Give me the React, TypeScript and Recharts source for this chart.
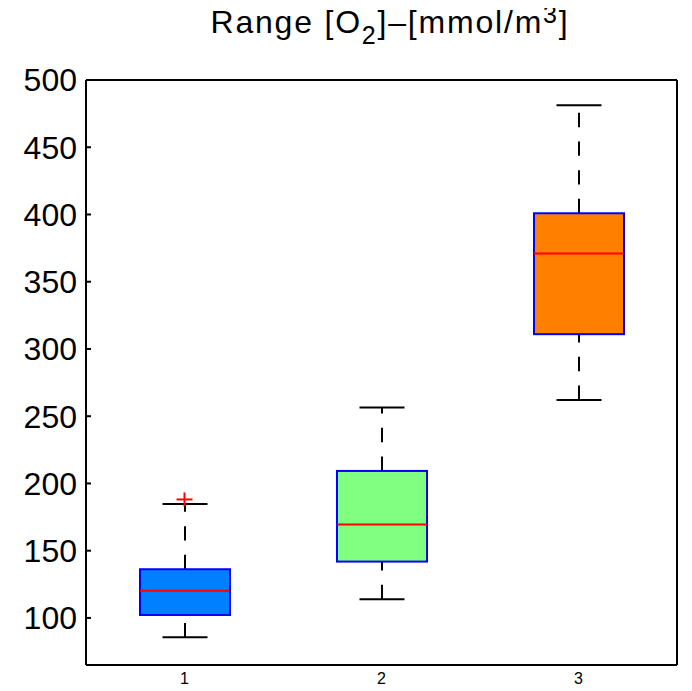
import { Bar, ComposedChart, Scatter, XAxis, YAxis, ReferenceLine } from 'recharts'

const groups = ['1', '2', '3']
const lowerWhisker = [85.6, 113.9, 262.1]
const lowerQuartile = [102.2, 141.9, 311.0]
const medians = [120.3, 169.4, 370.9]
const upperQuartile = [136.2, 209.3, 400.9]
const upperWhisker = [184.8, 256.4, 481.2]
const outliers: (number | null)[] = [188.1, null, null]
const yTicks = [100, 150, 200, 250, 300, 350, 400, 450, 500]

const boxFills = ['#0080FF', '#80FF80', '#FF8000']
const font = "'Liberation Sans', Arial, Helvetica, sans-serif"

const data = groups.map((name, i) => ({
  name,
  range: [lowerWhisker[i], upperWhisker[i]],
  lo: lowerWhisker[i],
  q1: lowerQuartile[i],
  median: medians[i],
  q3: upperQuartile[i],
  hi: upperWhisker[i],
  outlier: outliers[i],
  fill: boxFills[i],
}))

function BoxShape(props: any) {
  const { x, y, width, height, payload } = props
  const top = Math.min(y, y + height)
  const h = Math.abs(height)
  const ppu = h / (payload.hi - payload.lo)
  const toY = (v: number) => top + (payload.hi - v) * ppu
  const cx = x + width / 2
  const cap = width / 4
  const dash = '14.4 14.3'
  return (
    <g>
      <line x1={cx} x2={cx} y1={toY(payload.lo)} y2={toY(payload.q1)} stroke="#000" strokeWidth={2} strokeDasharray={dash} />
      <line x1={cx} x2={cx} y1={toY(payload.q3)} y2={toY(payload.hi)} stroke="#000" strokeWidth={2} strokeDasharray={dash} />
      <line x1={cx - cap} x2={cx + cap} y1={toY(payload.lo)} y2={toY(payload.lo)} stroke="#000" strokeWidth={2} />
      <line x1={cx - cap} x2={cx + cap} y1={toY(payload.hi)} y2={toY(payload.hi)} stroke="#000" strokeWidth={2} />
      <rect
        x={x}
        y={toY(payload.q3)}
        width={width}
        height={toY(payload.q1) - toY(payload.q3)}
        fill={payload.fill}
        stroke="#0000FF"
        strokeWidth={2}
      />
      <line x1={x} x2={x + width} y1={toY(payload.median)} y2={toY(payload.median)} stroke="#FF0000" strokeWidth={2} />
    </g>
  )
}

function PlusShape(props: any) {
  const { cx, cy, payload } = props
  if (payload == null || payload.outlier == null || !isFinite(cy)) return <g />
  return (
    <g>
      <line x1={cx - 8} x2={cx + 8} y1={cy} y2={cy} stroke="#FF0000" strokeWidth={2} />
      <line x1={cx} x2={cx} y1={cy - 7} y2={cy + 7} stroke="#FF0000" strokeWidth={2} />
    </g>
  )
}

export default function App() {
  return (
    <div style={{ position: 'relative', width: 684, height: 683, background: '#fff' }}>
      {/* titel, O2 met subscript en m3 met superscript */}
      <div
        style={{
          position: 'absolute',
          zIndex: 2,
          top: -2,
          left: 100,
          width: 564,
          textAlign: 'center',
          fontFamily: font,
          fontSize: 32,
          lineHeight: '32px',
          letterSpacing: 1.8,
          color: '#000',
          whiteSpace: 'nowrap',
        }}
      >
        Range [O<span style={{ position: 'relative', top: 11, fontSize: 25 }}>2</span>]–[mmol/m
        <span style={{ position: 'relative', top: -10, fontSize: 25 }}>3</span>]
      </div>
      <ComposedChart width={684} height={683} data={data} margin={{ top: 72, right: 0, bottom: 0, left: 0 }}>
        <XAxis
          dataKey="name"
          height={26}
          tickLine={false}
          tickSize={0}
          tickMargin={8}
          axisLine={{ stroke: '#000', strokeWidth: 2 }}
          tick={{ fill: '#000', fontSize: 16, fontFamily: font }}
        />
        <YAxis
          yAxisId="left"
          width={78}
          domain={[65, 500]}
          ticks={yTicks}
          allowDataOverflow
          tickSize={-5}
          tickMargin={14}
          tickLine={{ stroke: '#000', strokeWidth: 2 }}
          axisLine={{ stroke: '#000', strokeWidth: 2 }}
          tick={{ fill: '#000', fontSize: 32, fontFamily: font }}
        />
        <YAxis
          yAxisId="right"
          orientation="right"
          width={15}
          domain={[65, 500]}
          ticks={yTicks}
          allowDataOverflow
          tick={false}
          tickSize={-5}
          tickLine={{ stroke: '#000', strokeWidth: 2 }}
          axisLine={{ stroke: '#000', strokeWidth: 2 }}
        />
        <ReferenceLine yAxisId="left" y={500} stroke="#000" strokeWidth={2} />
        <Bar yAxisId="left" dataKey="range" barSize={90} isAnimationActive={false} shape={(p: any) => <BoxShape {...p} />} />
        <Scatter yAxisId="left" dataKey="outlier" isAnimationActive={false} shape={(p: any) => <PlusShape {...p} />} />
      </ComposedChart>
    </div>
  )
}
